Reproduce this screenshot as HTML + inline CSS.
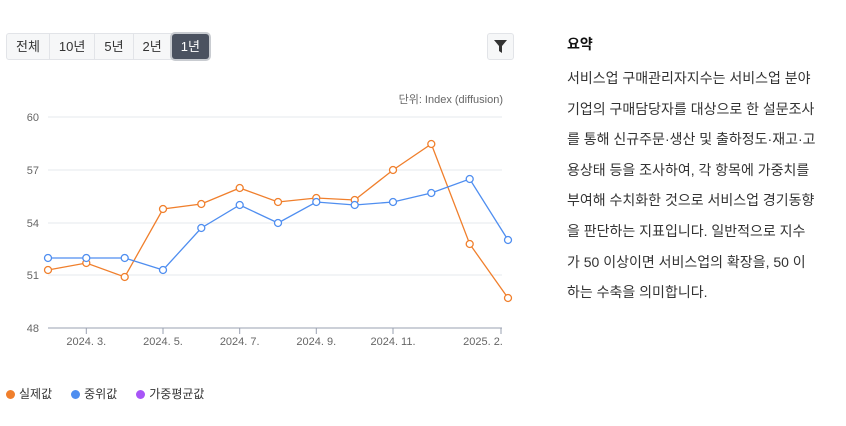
<!DOCTYPE html>
<html><head><meta charset="utf-8"><style>
body{margin:0;width:846px;height:426px;background:#fff;position:relative;font-family:"Liberation Sans","Noto Sans CJK KR",sans-serif;overflow:hidden}
.btns{position:absolute;left:6px;top:33px;height:25px;display:flex;border:1px solid #e2e4e8;border-radius:3px;background:#f6f7f8}
.btns div{font-size:13px;color:#333;padding:0 9px;line-height:25px;border-right:1px solid #e2e4e8}
.btns .on{background:#4b5260;color:#fff;border-radius:3px;box-shadow:0 0 0 2px #c9ccd1}
.filter{position:absolute;left:487px;top:33px;width:25px;height:25px;border:1px solid #e2e4e8;border-radius:3px;background:#f6f7f8}
.sum{position:absolute;left:567px;top:34px;width:270px;font-size:14px;color:#333}
.sum h{display:block;font-weight:bold;color:#111;height:20px;line-height:20px;margin-bottom:9px}
.sum p{margin:0;line-height:30.6px}
.leg{position:absolute;top:385px;font-size:12px;color:#333;left:6px}
.leg span{margin-right:19px}
.leg i{display:inline-block;width:9px;height:9px;border-radius:50%;margin-right:4px;vertical-align:-1px}
</style></head><body>
<div class="btns"><div>전체</div><div>10년</div><div>5년</div><div>2년</div><div class="on" style="border:none">1년</div></div>
<div class="filter"><svg width="25" height="25"><path d="M6 6h13l-5 6v7l-3-2v-5z" fill="#333"/></svg></div>
<svg width="530" height="360" style="position:absolute;left:0;top:0" font-family="Liberation Sans,Noto Sans CJK KR,sans-serif">
<text x="503" y="103" font-size="11" fill="#666" text-anchor="end">단위: Index (diffusion)</text>
<g stroke="#e6e8ec" stroke-width="1">
<line x1="48" x2="502" y1="117" y2="117"/><line x1="48" x2="502" y1="170" y2="170"/><line x1="48" x2="502" y1="223" y2="223"/><line x1="48" x2="502" y1="275" y2="275"/>
</g>
<line x1="48" x2="502" y1="328" y2="328" stroke="#9aa0b0"/>
<g stroke="#9aa0b0"><line x1="86.3" x2="86.3" y1="328" y2="334"/><line x1="163" x2="163" y1="328" y2="334"/><line x1="239.7" x2="239.7" y1="328" y2="334"/><line x1="316.3" x2="316.3" y1="328" y2="334"/><line x1="393" x2="393" y1="328" y2="334"/><line x1="501" x2="501" y1="328" y2="334"/></g>
<g font-size="11" fill="#666" text-anchor="end"><text x="39" y="121">60</text><text x="39" y="174">57</text><text x="39" y="227">54</text><text x="39" y="279">51</text><text x="39" y="332">48</text></g>
<g font-size="11" fill="#666" text-anchor="middle"><text x="86.3" y="345">2024. 3.</text><text x="163" y="345">2024. 5.</text><text x="239.7" y="345">2024. 7.</text><text x="316.3" y="345">2024. 9.</text><text x="393" y="345">2024. 11.</text><text x="483" y="345">2025. 2.</text></g>
<polyline fill="none" stroke="#f07f2c" stroke-width="1.3" points="48,270 86.3,263 124.7,277 163,209 201.3,204 239.7,188 278,202 316.3,198 354.7,200 393,170 431.3,144 469.7,244 508,298"/>
<polyline fill="none" stroke="#4f8ef0" stroke-width="1.3" points="48,258 86.3,258 124.7,258 163,270 201.3,228 239.7,205 278,223 316.3,202 354.7,205 393,202 431.3,193 469.7,179 508,240"/>
<g fill="#fff" stroke="#f07f2c" stroke-width="1.3"><circle cx="48" cy="270" r="3.5"/><circle cx="86.3" cy="263" r="3.5"/><circle cx="124.7" cy="277" r="3.5"/><circle cx="163" cy="209" r="3.5"/><circle cx="201.3" cy="204" r="3.5"/><circle cx="239.7" cy="188" r="3.5"/><circle cx="278" cy="202" r="3.5"/><circle cx="316.3" cy="198" r="3.5"/><circle cx="354.7" cy="200" r="3.5"/><circle cx="393" cy="170" r="3.5"/><circle cx="431.3" cy="144" r="3.5"/><circle cx="469.7" cy="244" r="3.5"/><circle cx="508" cy="298" r="3.5"/></g>
<g fill="#fff" stroke="#4f8ef0" stroke-width="1.3"><circle cx="48" cy="258" r="3.5"/><circle cx="86.3" cy="258" r="3.5"/><circle cx="124.7" cy="258" r="3.5"/><circle cx="163" cy="270" r="3.5"/><circle cx="201.3" cy="228" r="3.5"/><circle cx="239.7" cy="205" r="3.5"/><circle cx="278" cy="223" r="3.5"/><circle cx="316.3" cy="202" r="3.5"/><circle cx="354.7" cy="205" r="3.5"/><circle cx="393" cy="202" r="3.5"/><circle cx="431.3" cy="193" r="3.5"/><circle cx="469.7" cy="179" r="3.5"/><circle cx="508" cy="240" r="3.5"/></g>
</svg>
<div class="leg"><span><i style="background:#f07f2c"></i>실제값</span><span><i style="background:#4f8ef0"></i>중위값</span><span><i style="background:#a855f7"></i>가중평균값</span></div>
<div class="sum"><h>요약</h><p>서비스업 구매관리자지수는 서비스업 분야<br>기업의 구매담당자를 대상으로 한 설문조사<br>를 통해 신규주문·생산 및 출하정도·재고·고<br>용상태 등을 조사하여, 각 항목에 가중치를<br>부여해 수치화한 것으로 서비스업 경기동향<br>을 판단하는 지표입니다. 일반적으로 지수<br>가 50 이상이면 서비스업의 확장을, 50 이<br>하는 수축을 의미합니다.</p></div>
</body></html>
